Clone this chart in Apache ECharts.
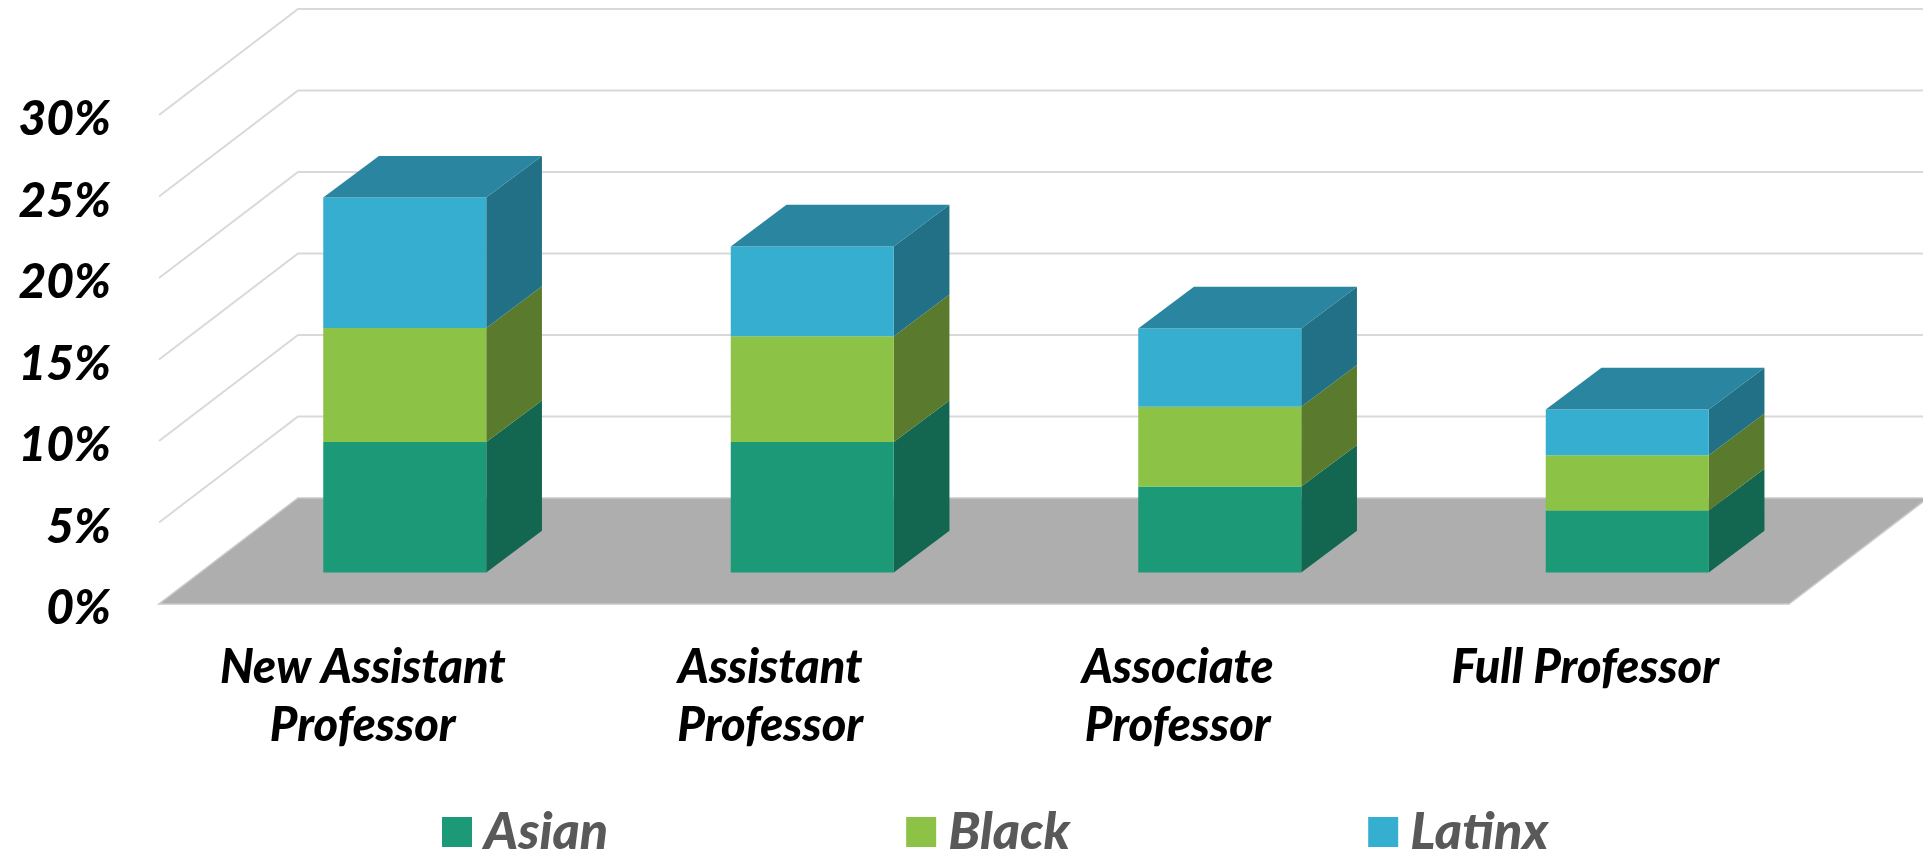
<!DOCTYPE html>
<html>
<head>
<meta charset="utf-8">
<style>html,body{margin:0;padding:0;background:#fff;overflow:hidden}#c{width:1923px;height:850px}</style>
<script src="https://cdn.jsdelivr.net/npm/echarts@6/dist/echarts.min.js"></script>
</head>
<body>
<div id="c"></div>
<script>
const categories = ['New Assistant\nProfessor', 'Assistant\nProfessor', 'Associate\nProfessor', 'Full Professor'];
const asian  = [8.0, 8.0, 5.27, 3.8];
const black  = [7.0, 6.5, 4.9, 3.4];
const latinx = [8.0, 5.5, 4.8, 2.8];
const tickValues = [5, 10, 15, 20, 25, 30];

const FONT = 'Lato, "Open Sans", sans-serif';
const WALL = [139, -106];       // depth of the chart box, px
const BAR_OFFSET = [42, -31.5]; // bar front plane relative to box front
const BAR_DEPTH = [55.7, -41.7];
const BAR_WIDTH = 163;

function edges(api) {
  const band = api.size([1, 0])[0];
  return {left: api.coord([0, 0])[0] - band / 2, right: api.coord([3, 0])[0] + band / 2};
}
function floorItem(params, api) {
  const e = edges(api), y = api.coord([0, 0])[1];
  return {type: 'polygon', silent: true,
    shape: {points: [[e.left, y], [e.right, y], [e.right + WALL[0], y + WALL[1]], [e.left + WALL[0], y + WALL[1]]]},
    style: {fill: '#AEAEAE', stroke: '#C9C9C9', lineWidth: 1.5}};
}
function gridItem(params, api) {
  const e = edges(api), y = api.coord([0, api.value(0)])[1];
  return {type: 'polyline', silent: true,
    shape: {points: [[e.left, y], [e.left + WALL[0], y + WALL[1]], [e.right + WALL[0], y + WALL[1]]]},
    style: {fill: null, stroke: '#D9D9D9', lineWidth: 2}};
}
function boxItem(front, side, top, showTop) {
  return function (params, api) {
    const c = api.coord([api.value(0), api.value(1)]);
    const t = api.coord([api.value(0), api.value(2)]);
    const l = c[0] + BAR_OFFSET[0] - BAR_WIDTH / 2, r = l + BAR_WIDTH;
    const yb = c[1] + BAR_OFFSET[1], yt = t[1] + BAR_OFFSET[1];
    const dx = BAR_DEPTH[0], dy = BAR_DEPTH[1];
    const children = [
      {type: 'polygon', shape: {points: [[r, yb], [r + dx, yb + dy], [r + dx, yt + dy], [r, yt]]}, style: {fill: side}},
      {type: 'rect', shape: {x: l, y: yt, width: BAR_WIDTH, height: yb - yt}, style: {fill: front}}
    ];
    if (showTop) children.push({type: 'polygon',
      shape: {points: [[l, yt], [r, yt], [r + dx, yt + dy], [l + dx, yt + dy]]}, style: {fill: top}});
    return {type: 'group', children: children};
  };
}
function stackData(values, below) {
  return values.map((v, i) => { const b = below.reduce((s, a) => s + a[i], 0); return [i, b, b + v]; });
}
function boxSeries(name, values, below, front, side, top, showTop) {
  return {type: 'custom', name: name, coordinateSystem: 'cartesian2d', clip: false,
    renderItem: boxItem(front, side, top, showTop),
    itemStyle: {color: front},
    encode: {x: 0, y: [1, 2]},
    data: stackData(values, below)};
}

const chart = echarts.init(document.getElementById('c'), null, {renderer: 'canvas'});
chart.setOption({
  animation: false,
  backgroundColor: '#fff',
  grid: {left: 159, right: 134, top: 115, bottom: 246, containLabel: false},
  legend: {
    left: 437, top: 801, itemWidth: 30, itemHeight: 30, itemGap: 298, icon: 'rect',
    data: ['Asian', 'Black', 'Latinx'],
    textStyle: {fontFamily: FONT, fontSize: 52, fontWeight: 900, fontStyle: 'italic', color: '#595959', padding: [6, 0, 0, 7]}
  },
  xAxis: {
    type: 'category', data: categories,
    axisLine: {show: false}, axisTick: {show: false}, splitLine: {show: false},
    axisLabel: {interval: 0, margin: 35, verticalAlign: 'top', lineHeight: 58, fontFamily: FONT, fontSize: 47, fontWeight: 900, fontStyle: 'italic', color: '#000'}
  },
  yAxis: {
    type: 'value', min: 0, max: 30, interval: 5,
    axisLine: {show: false}, axisTick: {show: false}, splitLine: {show: false},
    axisLabel: {formatter: '{value}%', margin: 48, verticalAlign: 'top', lineHeight: 10, fontFamily: FONT, fontSize: 48, fontWeight: 900, fontStyle: 'italic', color: '#000'}
  },
  series: [
    {type: 'custom', name: 'floor', coordinateSystem: 'cartesian2d', clip: false, renderItem: floorItem, data: [[0]], silent: true, encode: {x: 0}},
    {type: 'custom', name: 'grid', coordinateSystem: 'cartesian2d', clip: false, renderItem: gridItem, data: tickValues.map(v => [v]), silent: true, encode: {y: 0}},
    boxSeries('Asian', asian, [], '#1C9A77', '#136650', '#136650', false),
    boxSeries('Black', black, [asian], '#8CC245', '#5A7B2E', '#5A7B2E', false),
    boxSeries('Latinx', latinx, [asian, black], '#36AECF', '#217086', '#2A85A0', true)
  ]
});
</script>
</body>
</html>
